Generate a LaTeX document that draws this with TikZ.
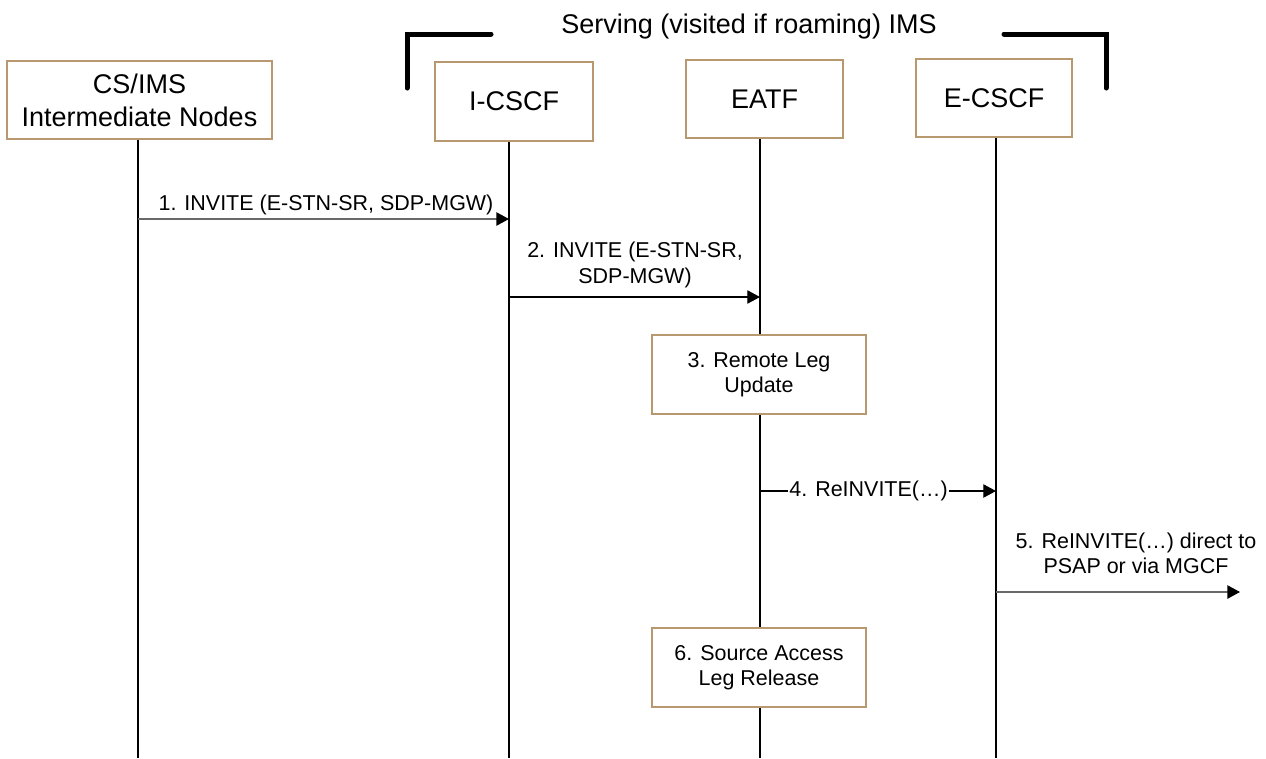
\documentclass[tikz,border=0pt]{standalone}
\usepackage{fontspec}
\setmainfont{Liberation Sans}
\usetikzlibrary{arrows.meta}
\definecolor{boxborder}{RGB}{184,152,110}
\definecolor{msggray}{RGB}{105,105,105}
\begin{document}
\begin{tikzpicture}[x=0.75pt,y=-0.75pt,
  entity/.style={draw=boxborder,line width=1pt,fill=white,align=center,
    font=\fontsize{20.25}{24.75}\selectfont,inner sep=0pt},
  procbox/.style={draw=boxborder,line width=1pt,fill=white,align=center,
    font=\fontsize{16.1}{18.9}\selectfont,minimum width=160.5pt,minimum height=59.25pt,inner sep=0pt},
  lifeline/.style={line width=1.2pt,black},
  msg/.style={line width=0.9pt,-{Triangle[length=9.5pt,width=10pt,color=black]}},
  lbl/.style={font=\fontsize{16.1}{18.9}\selectfont,align=center,inner sep=0pt},
  bracket/.style={line width=3.75pt,line cap=round,line join=miter}]
\useasboundingbox (0,0) rectangle (1266,758);

% title and brackets
\node[font=\fontsize{20.25}{24.75}\selectfont,anchor=base,inner sep=0pt] (title) at (749,33) {Serving (visited if roaming) IMS};
\draw[bracket] (407,88) -- (407,34) -- (491,34);
\draw[bracket] (1004,34) -- (1106,34) -- (1106,88);

% lifeline coordinates
\coordinate (l1t) at (138,139); \coordinate (l1b) at (138,758);
\coordinate (l2t) at (509,141); \coordinate (l2b) at (509,758);
\coordinate (l3t) at (760,138); \coordinate (l3b) at (760,758);
\coordinate (l4t) at (996,137); \coordinate (l4b) at (996,758);
\draw[lifeline] (l1t) -- (l1b);
\draw[lifeline] (l2t) -- (l2b);
\draw[lifeline] (l3t) -- (l3b);
\draw[lifeline] (l4t) -- (l4b);

% entity boxes
\node[entity,minimum width=198.75pt,minimum height=58.5pt] (csims) at (139.5,100) {CS/IMS\\Intermediate Nodes};
\node[entity,minimum width=118.5pt,minimum height=59.25pt] (icscf) at (514,101.5) {I-CSCF};
\node[entity,minimum width=117.75pt,minimum height=58.5pt] (eatf) at (764.5,99) {EATF};
\node[entity,minimum width=117pt,minimum height=58.5pt] (ecscf) at (994,98) {E-CSCF};

% message 1
\coordinate (m1s) at (138,219); \coordinate (m1e) at (509,219);
\draw[msg,msggray,line width=1.1pt] (m1s) -- (m1e);
\node[lbl,anchor=base] (t1) at (326,210) {1. INVITE (E-STN-SR, SDP-MGW)};

% message 2
\coordinate (m2s) at (509,297); \coordinate (m2e) at (760,297);
\draw[msg,black] (m2s) -- (m2e);
\node[lbl] (t2) at (635,265) {2. INVITE (E-STN-SR,\\SDP-MGW)};

% step 3
\node[procbox] (s3) at (759,374.5) {3. Remote Leg\\Update};

% message 4
\coordinate (m4s) at (760,491); \coordinate (m4e) at (996,491);
\draw[msg,black] (m4s) -- node[lbl,fill=white,inner xsep=1pt,inner ysep=1pt,pos=0.46] (t4) {4. ReINVITE(…)} (m4e);

% message 5
\coordinate (m5s) at (996,592); \coordinate (m5e) at (1240,592);
\draw[msg,msggray,line width=1.1pt] (m5s) -- (m5e);
\node[lbl] (t5) at (1136,553) {5. ReINVITE(…) direct to\\PSAP or via MGCF};

% step 6
\node[procbox] (s6) at (759,667.5) {6. Source Access\\Leg Release};
\end{tikzpicture}
\end{document}
